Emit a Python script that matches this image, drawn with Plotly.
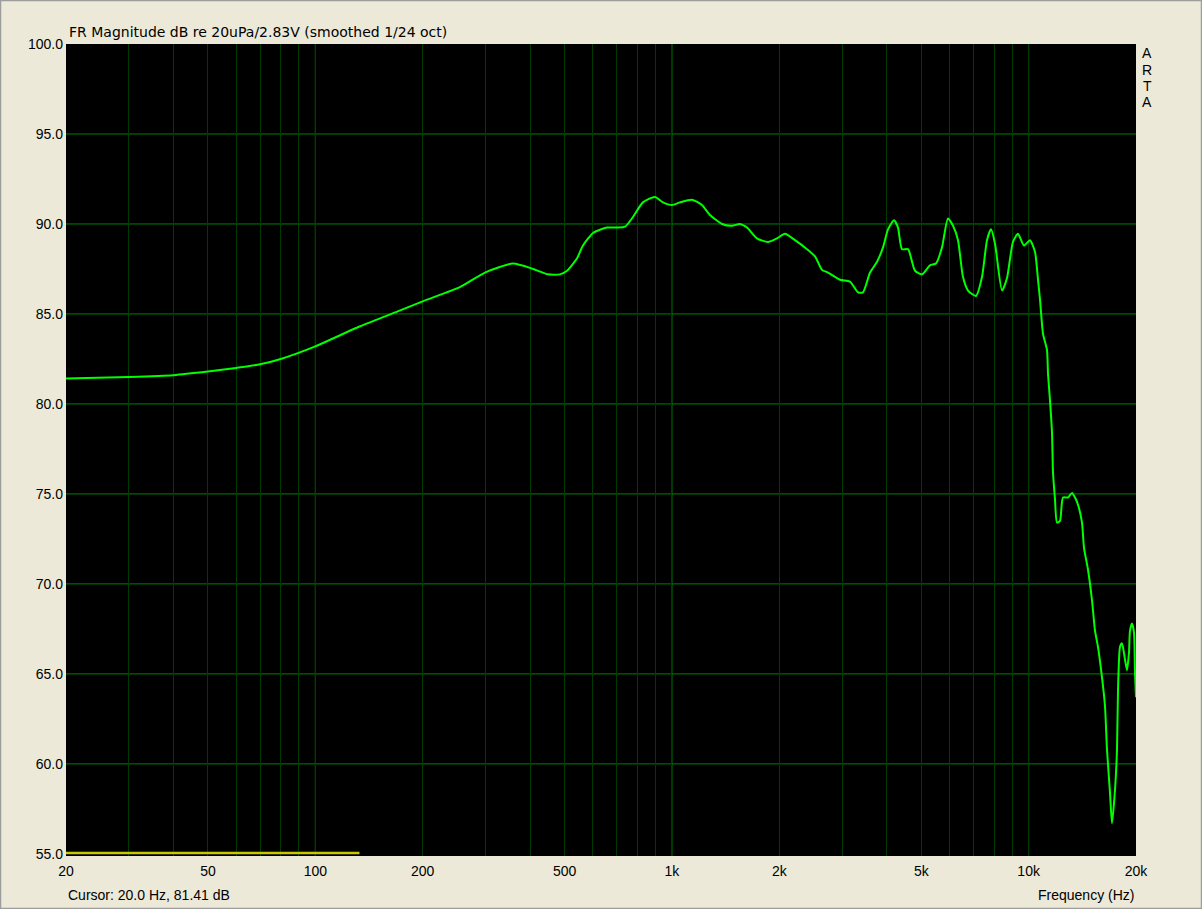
import plotly.graph_objects as go

# frequency response (Hz, dB)
freq_hz = [20, 30, 40, 50, 60, 70, 80, 100, 133, 173, 200, 255, 299, 358, 408, 449,
           485, 508, 542, 563, 601, 657, 701, 739, 778, 829, 896, 944, 1000, 1053,
           1138, 1214, 1278, 1381, 1473, 1551, 1623, 1731, 1858, 1970, 2074, 2213,
           2391, 2518, 2634, 2738, 2960, 3156, 3324, 3432, 3592, 3758, 3906, 4034,
           4194, 4303, 4415, 4590, 4802, 5024, 5290, 5498, 5716, 5941, 6138, 6338,
           6546, 6761, 7118, 7400, 7643, 7842, 8049, 8421, 8697, 9038, 9335, 9704,
           10087, 10419, 10624, 10762, 10972, 11258, 11331, 11479, 11628, 11703,
           11855, 12009, 12244, 12484, 12894, 13231, 13490, 13754, 14113, 14297,
           14669, 15053, 15348, 15648, 16057, 16372, 16584, 16908, 17128, 17463,
           17690, 17806, 18038, 18272, 18629, 18871, 19116, 19240, 19490, 19741,
           19870, 20000]
mag_db = [81.41, 81.5, 81.6, 81.8, 82.0, 82.2, 82.5, 83.2, 84.3, 85.2, 85.7, 86.5, 87.3, 87.8, 87.5, 87.2,
          87.2, 87.4, 88.1, 88.8, 89.5, 89.8, 89.8, 89.85, 90.4, 91.2, 91.5, 91.2, 91.05, 91.2,
          91.35, 91.05, 90.5, 90.0, 89.9, 90.0, 89.8, 89.2, 89.0, 89.2, 89.45, 89.1,
          88.6, 88.2, 87.45, 87.3, 86.9, 86.8, 86.2, 86.2, 87.3, 87.9, 88.7, 89.7,
          90.2, 89.8, 88.6, 88.6, 87.4, 87.2, 87.7, 87.8, 88.7, 90.3, 89.9, 89.1,
          87.05, 86.3, 86.0, 87.05, 89.1, 89.7, 88.9, 86.3, 87.0, 89.0, 89.45, 88.8,
          89.1, 88.45, 86.9, 85.8, 83.9, 83.0, 81.7, 80.2, 78.4, 76.2,
          74.7, 73.4, 73.5, 74.8, 74.8, 75.05, 74.8, 74.4, 73.4, 72.0,
          70.8, 69.1, 67.4, 66.5, 64.8, 63.2, 60.8, 58.4, 56.7, 58.55,
          60.8, 64.1, 66.5, 66.7, 65.8, 65.2, 66.2, 67.4, 67.8, 67.3,
          65.05, 63.7]

# yellow marker bar along the bottom
bar_hz = [20, 133]
bar_db = [55.05, 55.05]

grid_hz = [20, 30, 40, 50, 60, 70, 80, 90, 100, 200, 300, 400, 500, 600, 700, 800, 900,
           1000, 2000, 3000, 4000, 5000, 6000, 7000, 8000, 9000, 10000, 20000]
label_hz = {20: "20", 50: "50", 100: "100", 200: "200", 500: "500", 1000: "1k",
            2000: "2k", 5000: "5k", 10000: "10k", 20000: "20k"}
decade_hz = [100, 1000, 10000]
grid_db = [60, 65, 70, 75, 80, 85, 90, 95]

W, H = 1202, 909
L, R, T, B = 66, 66, 44, 53
font = "Liberation Sans"

fig = go.Figure()
fig.add_trace(go.Scatter(x=bar_hz, y=bar_db, mode="lines",
                         line=dict(color="#c8c800", width=2.5), hoverinfo="skip"))
fig.add_trace(go.Scatter(x=freq_hz, y=mag_db, mode="lines",
                         line=dict(color="#00ff00", width=2, shape="spline", smoothing=0.6),
                         hoverinfo="skip"))

fig.update_layout(
    template="none",
    width=W, height=H,
    margin=dict(l=L, r=R, t=T, b=B),
    paper_bgcolor="#ece9d8", plot_bgcolor="#000000",
    showlegend=False,
    font=dict(family=font, size=14, color="#000000"),
    xaxis=dict(type="log", range=[1.30103, 4.30103], tickvals=grid_hz,
               ticktext=[label_hz.get(v, "") for v in grid_hz],
               showgrid=True, gridcolor="#003c00", gridwidth=1,
               zeroline=False, showline=False, ticks="", ticklabelstandoff=5),
    yaxis=dict(range=[54.88, 100], tick0=55, dtick=5, tickformat=".1f",
               showgrid=False, zeroline=False, showline=False, ticks="",
               ticklabelstandoff=2),
)

# brighter grid lines: decades and every 5 dB
for f in decade_hz:
    fig.add_shape(type="line", xref="x", yref="paper", x0=f, x1=f, y0=0, y1=1,
                  line=dict(color="#008000", width=1), layer="between")
for d in grid_db:
    fig.add_shape(type="line", xref="paper", yref="y", x0=0, x1=1, y0=d, y1=d,
                  line=dict(color="#008000", width=1), layer="between")

ph = H - T - B
def py(pix):
    return (H - B - pix) / ph

fig.add_annotation(text="FR Magnitude dB re 20uPa/2.83V (smoothed 1/24 oct)",
                   xref="paper", yref="paper", x=0.001, y=py(32), xanchor="left",
                   yanchor="middle", showarrow=False,
                   font=dict(family="DejaVu Sans", size=14))
fig.add_annotation(text="Cursor: 20.0 Hz, 81.41 dB", xref="paper", yref="paper",
                   x=0, y=py(895), xanchor="left", yanchor="middle",
                   showarrow=False, font=dict(size=14))
fig.add_annotation(text="Frequency (Hz)", xref="paper", yref="paper",
                   x=1, y=py(895), xanchor="right", yanchor="middle",
                   showarrow=False, font=dict(size=14))
for i, ch in enumerate("ARTA"):
    fig.add_annotation(text=ch, xref="paper", yref="paper",
                       x=(1147 - L) / (W - L - R), y=py(53 + 16.5 * i),
                       xanchor="center", yanchor="middle", showarrow=False,
                       font=dict(size=14))

# window frame
pw = W - L - R
fig.add_shape(type="rect", xref="paper", yref="paper",
              x0=(0.5 - L) / pw, x1=(W - 0.5 - L) / pw,
              y0=py(H - 0.5), y1=py(0.5),
              line=dict(color="#9d9d9d", width=1.5), layer="above")

fig.write_html("out.html", config={"displayModeBar": False},
               post_script="document.body.style.margin='0';")
